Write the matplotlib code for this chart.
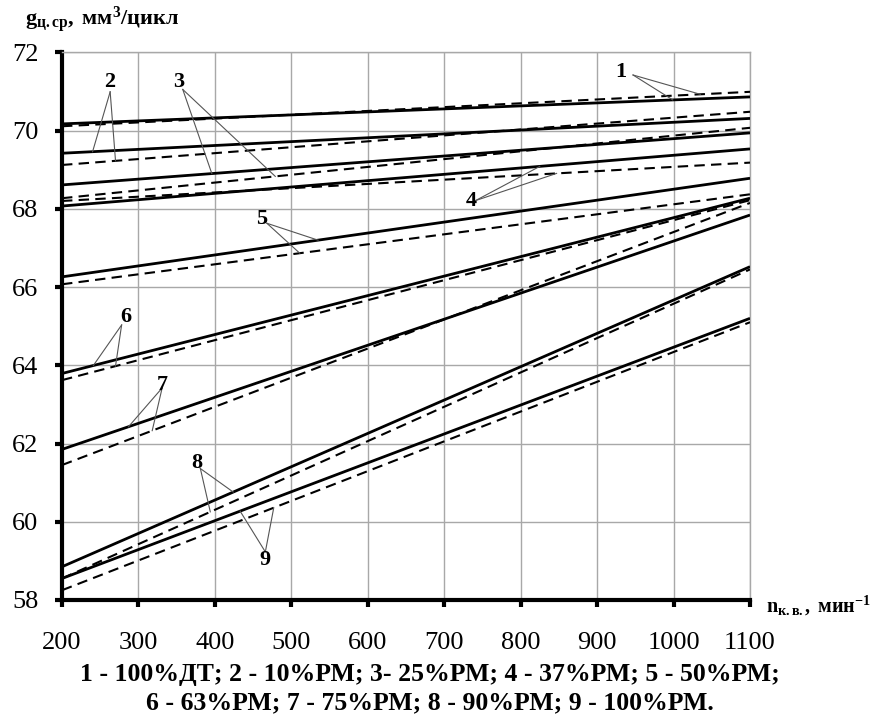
# -*- coding: utf-8 -*-
# g_ц.ср vs n_к.в. for diesel fuel / rapeseed blends (solid and dashed lines)

import matplotlib as mpl
from matplotlib import pyplot as plt
import numpy as np

mpl.rcParams['font.family'] = ['Liberation Serif', 'DejaVu Serif']
mpl.rcParams['mathtext.fontset'] = 'custom'
mpl.rcParams['mathtext.rm'] = 'Liberation Serif'
mpl.rcParams['mathtext.bf'] = 'Liberation Serif:bold'
mpl.rcParams['mathtext.it'] = 'Liberation Serif:italic'

# %% data (lines are straight between the two ends)
n_kv = [200, 1100]
solid_start = [70.17, 69.42, 68.61, 68.07, 66.26, 63.79, 61.85, 58.85, 58.55]
solid_end = [70.86, 70.31, 69.94, 69.53, 68.78, 68.27, 67.84, 66.52, 65.20]
dashed_start = [70.11, 69.12, 68.27, 68.20, 66.07, 63.62, 61.45, 58.55, 58.25]
dashed_end = [70.99, 70.48, 70.07, 69.18, 68.37, 68.22, 68.15, 66.45, 65.10]

x_ticks = [200, 300, 400, 500, 600, 700, 800, 900, 1000, 1100]
y_ticks = [58, 60, 62, 64, 66, 68, 70, 72]

caption1 = "1 - 100%ДТ; 2 - 10%РМ; 3- 25%РМ; 4 - 37%РМ; 5 - 50%РМ;"
caption2 = "6 - 63%РМ; 7 - 75%РМ; 8 - 90%РМ; 9 - 100%РМ."

# label: (text position, leader start, n on solid line, n on dashed line)
callouts = [
    ((931, 71.50), (947, 71.42), 999, 1035),
    ((263, 71.25), (263, 70.99), 240, 270),
    ((353, 71.25), (358, 71.05), 396, 479),
    ((736, 68.20), (741, 68.21), 825, 847),
    ((461, 67.75), (468, 67.63), 535, 511),
    ((284, 65.24), (278, 65.03), 241, 270),
    ((331, 63.49), (331, 63.42), 287, 318),
    ((376, 61.49), (381, 61.36), 424, 394),
    ((466, 59.02), (466, 59.23), 433, 477),
]

# %% plotting
fig = plt.figure(figsize=(8.78, 7.18), dpi=100)
ax = fig.add_axes([62 / 878, 1 - 600 / 718, 688 / 878, 547.7 / 718])

for i in range(len(solid_start)):
    ax.plot(n_kv, [solid_start[i], solid_end[i]], color='black', lw=2.0,
            solid_capstyle='butt', zorder=3)
    ax.plot(n_kv, [dashed_start[i], dashed_end[i]], color='black', lw=1.5,
            dashes=(5, 3), zorder=3)

for k, (lab, start, ns, nd) in enumerate(callouts):
    vs = np.interp(ns, n_kv, [solid_start[k], solid_end[k]])
    vd = np.interp(nd, n_kv, [dashed_start[k], dashed_end[k]])
    ax.plot([start[0], ns], [start[1], vs], color='#555555', lw=0.8, zorder=4)
    ax.plot([start[0], nd], [start[1], vd], color='#555555', lw=0.8, zorder=4)
    ax.text(lab[0], lab[1], str(k + 1), fontsize=16, fontweight='bold',
            ha='center', va='center', zorder=5)

ax.set_xlim(200, 1100)
ax.set_ylim(58, 72)
ax.set_xticks(x_ticks)
ax.set_yticks(y_ticks)
ax.grid(True, color='#a8a8a8', lw=1.0, zorder=0)
ax.set_axisbelow(True)

for side in ['top', 'right']:
    ax.spines[side].set_color('#a8a8a8')
    ax.spines[side].set_linewidth(1.0)
for side in ['left', 'bottom']:
    ax.spines[side].set_color('black')
    ax.spines[side].set_linewidth(3.0)

ax.tick_params(axis='both', direction='out', length=5, width=3,
               labelsize=19, color='black')
ax.tick_params(axis='x', pad=18)
ax.tick_params(axis='y', pad=12)

fig.text(25 / 878, 1 - 20 / 718,
         r'$\mathbf{g}_{\mathbf{ц.ср}}\mathbf{,\ мм}^{\mathbf{3}}\mathbf{/цикл}$',
         fontsize=16, ha='left', va='center')
fig.text(766 / 878, 1 - 606 / 718,
         r'$\mathbf{n}_{\mathbf{к.в.}}\mathbf{,\ мин}^{\mathbf{-1}}$',
         fontsize=14.5, ha='left', va='center')

fig.text(0.49, 1 - 675 / 718, caption1, fontsize=18.5, fontweight='bold',
         ha='center', va='center')
fig.text(0.49, 1 - 703 / 718, caption2, fontsize=18.5, fontweight='bold',
         ha='center', va='center')

plt.savefig('out.png', dpi=100)
